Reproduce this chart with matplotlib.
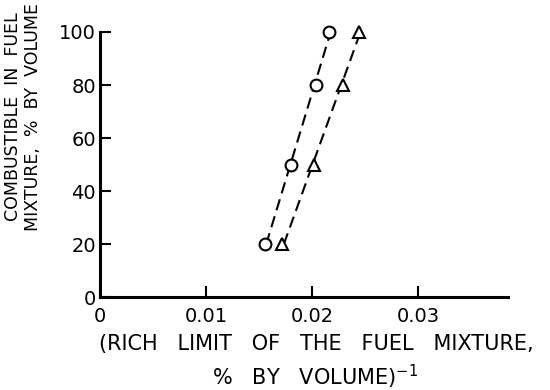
import numpy as np
import matplotlib
matplotlib.use('Agg')
import matplotlib.pyplot as plt

# combustible in fuel mixture, % by volume
combustible = [20, 50, 80, 100]
# reciprocal rich limit, (% by volume)^-1
inv_rich_circle = [0.0156, 0.0180, 0.0204, 0.0216]
inv_rich_triangle = [0.0172, 0.0202, 0.0229, 0.0244]

x_ticks = [0, 0.01, 0.02, 0.03]
x_tick_labels = ['0', '0.01', '0.02', '0.03']
y_ticks = [0, 20, 40, 60, 80, 100]

plt.rcParams['font.family'] = ['DejaVu Sans']

fig = plt.figure(figsize=(5.5, 3.9), dpi=100)
ax = fig.add_axes([0.182, 0.238, 0.742, 0.68])


def fit_line(xs, ys):
    # straight dashed fit through each series
    k, b = np.polyfit(ys, xs, 1)
    yy = np.array([min(ys), max(ys)])
    return k * yy + b, yy


for xs, marker in [(inv_rich_circle, 'o'), (inv_rich_triangle, '^')]:
    lx, ly = fit_line(xs, combustible)
    ax.plot(lx, ly, color='black', lw=1.5, dashes=(5.5, 3), clip_on=False)
    ax.plot(xs, combustible, linestyle='none', marker=marker, ms=8.5,
            mfc='white', mec='black', mew=1.5, zorder=3, clip_on=False)

ax.set_xlim(0, 0.0385)
ax.set_ylim(0, 100)
ax.set_xticks(x_ticks)
ax.set_xticklabels(x_tick_labels)
ax.set_yticks(y_ticks)
for s in ['top', 'right']:
    ax.spines[s].set_visible(False)
for s in ['left', 'bottom']:
    ax.spines[s].set_linewidth(2.2)
ax.tick_params(direction='in', length=8, width=1.5, labelsize=14, pad=3)
ax.tick_params(axis='x', pad=7)

fig.text(0.024, 0.70, 'COMBUSTIBLE  IN  FUEL', rotation=90, ha='center',
         va='center', fontsize=12.5)
fig.text(0.060, 0.70, 'MIXTURE,  %  BY  VOLUME', rotation=90, ha='center',
         va='center', fontsize=12.5)
fig.text(0.575, 0.118, '(RICH   LIMIT   OF   THE   FUEL   MIXTURE,',
         ha='center', va='center', fontsize=15)
fig.text(0.573, 0.033, '%   BY   VOLUME)$^{-1}$', ha='center',
         va='center', fontsize=15)

fig.savefig('out.png', dpi=100)
